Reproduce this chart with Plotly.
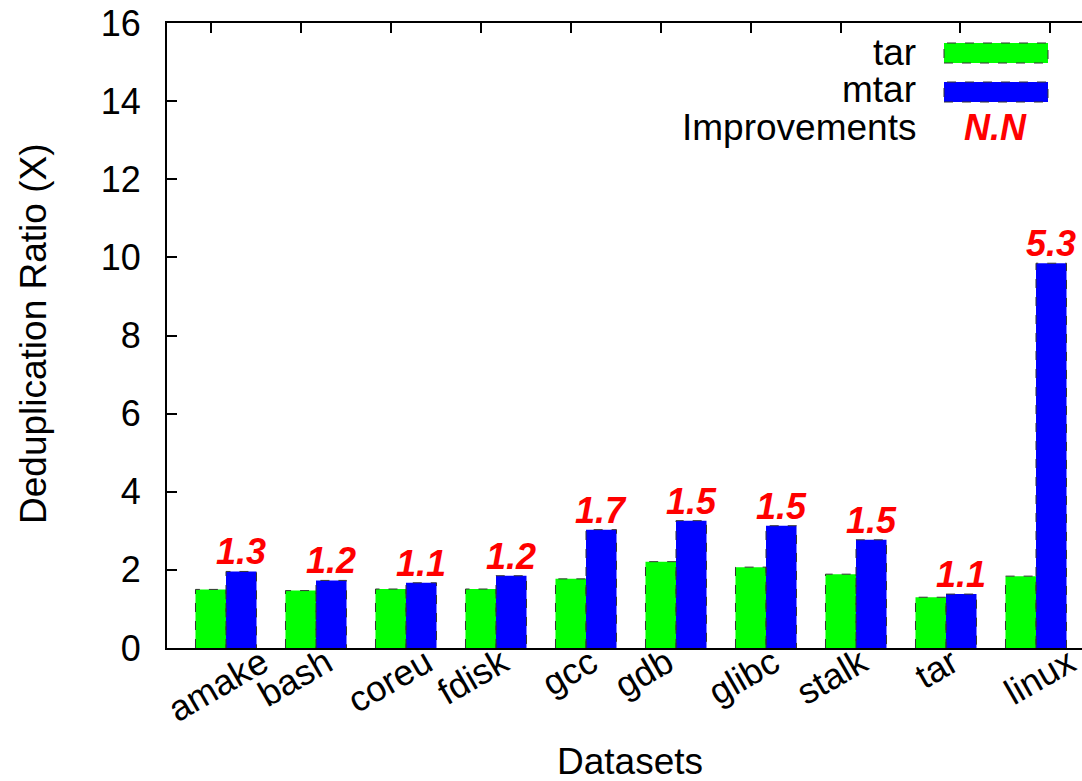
import plotly.graph_objects as go

# ---- data ----
categories = ["amake", "bash", "coreu", "fdisk", "gcc", "gdb", "glibc", "stalk", "tar", "linux"]
tar_values = [1.50, 1.47, 1.51, 1.51, 1.77, 2.21, 2.07, 1.89, 1.30, 1.84]
mtar_values = [1.96, 1.73, 1.67, 1.85, 3.03, 3.26, 3.13, 2.77, 1.38, 9.85]
improvements = ["1.3", "1.2", "1.1", "1.2", "1.7", "1.5", "1.5", "1.5", "1.1", "5.3"]
y_ticks = [0, 2, 4, 6, 8, 10, 12, 14, 16]

FONT = "Liberation Sans, Arial, Helvetica, sans-serif"
GREEN = "#00ff00"
BLUE = "#0000ff"
RED = "#ff0000"
OUTLINE = "#333333"

BARGAP = 0.322
W = (1 - BARGAP) / 2  # width of one bar in category units

xs = list(range(len(categories)))

fig = go.Figure()
fig.add_trace(go.Bar(x=xs, y=tar_values, name="tar", marker=dict(color=GREEN, line=dict(width=0)),
                     showlegend=False))
fig.add_trace(go.Bar(x=xs, y=mtar_values, name="mtar", marker=dict(color=BLUE, line=dict(width=0)),
                     showlegend=False))


def outline(values, side):
    ox, oy = [], []
    for i, v in enumerate(values):
        x0 = i - W if side == 0 else i
        x1 = x0 + W
        ox += [x0, x0, x1, x1, None]
        oy += [0, v, v, 0, None]
    return ox, oy


for k, vals in enumerate([tar_values, mtar_values]):
    ox, oy = outline(vals, k)
    fig.add_trace(go.Scatter(x=ox, y=oy, mode="lines", showlegend=False, hoverinfo="skip",
                             line=dict(color=OUTLINE, width=1, dash="dash")))

# improvement labels
for i, (v, t) in enumerate(zip(mtar_values, improvements)):
    fig.add_annotation(x=i + W / 2, y=v, xref="x", yref="y", text=t, showarrow=False,
                       yanchor="bottom", xanchor="center", yshift=-3,
                       font=dict(family=FONT, size=36, color=RED, weight="bold", style="italic"))

FIG_W, FIG_H = 1082, 781
L, T, R, B = 167, 23, 1082, 648  # plot area in screen pixels
PW, PH = R - L, B - T


def px(xp):
    return (xp - L) / PW


def py(yp):
    return (B - yp) / PH


def xdata(xp):  # screen x -> category coordinate
    return (xp - 226) / 90


# legend (custom, text left of swatch)
leg_font = dict(family=FONT, size=37, color="black")
for label, yc in [("tar", 52), ("mtar", 90), ("Improvements", 127)]:
    fig.add_annotation(x=px(918), y=py(yc), xref="paper", yref="paper", text=label,
                       showarrow=False, xanchor="right", yanchor="middle", font=leg_font)
for color, (y0, y1) in [(GREEN, (43, 63)), (BLUE, (82, 102))]:
    fig.add_shape(type="rect", xref="paper", yref="paper", x0=px(944), x1=px(1048),
                  y0=py(y1), y1=py(y0), fillcolor=color,
                  line=dict(color=OUTLINE, width=1, dash="dash"))
fig.add_annotation(x=px(995), y=py(127), xref="paper", yref="paper", text="N.N", showarrow=False,
                   xanchor="center", yanchor="middle",
                   font=dict(family=FONT, size=36, color=RED, weight="bold", style="italic"))

# axis titles
fig.add_annotation(x=px(33), y=py(334), xref="paper", yref="paper", text="Deduplication Ratio (X)",
                   showarrow=False, textangle=-90, xanchor="center", yanchor="middle",
                   font=dict(family=FONT, size=37, color="black"))
fig.add_annotation(x=px(630), y=py(761), xref="paper", yref="paper", text="Datasets",
                   showarrow=False, xanchor="center", yanchor="middle",
                   font=dict(family=FONT, size=37, color="black"))

x_range = [xdata(L), xdata(R)]
top_ticks = [xdata(p) for p in [211, 301, 391, 481, 571, 661, 751, 841, 960, 1050]]
label_pos = [xdata(p - 6) for p in [268, 332, 432, 508, 597, 673, 779, 867, 958, 1075]]

fig.update_layout(
    width=FIG_W, height=FIG_H,
    margin=dict(l=L, r=FIG_W - R, t=T, b=FIG_H - B),
    plot_bgcolor="white", paper_bgcolor="white",
    barmode="group", bargap=BARGAP, bargroupgap=0,
    font=dict(family=FONT, size=36, color="black"),
    xaxis=dict(range=x_range, tickmode="array", tickvals=label_pos, ticktext=categories,
               tickangle=-30, ticks="", showgrid=False, zeroline=False, automargin=False,
               showline=True, linecolor="black", linewidth=2, mirror=True, ticklabelstandoff=-22,
               ticklabeloverflow="allow",
               tickfont=dict(family=FONT, size=36, color="black")),
    xaxis2=dict(range=x_range, overlaying="x", side="top", tickmode="array", tickvals=top_ticks,
                ticks="inside", ticklen=10, tickwidth=2, tickcolor="black", showticklabels=False,
                showgrid=False, zeroline=False, showline=True, linecolor="black", linewidth=2,
                automargin=False),
    yaxis=dict(range=[0, 16], tickmode="array", tickvals=y_ticks, ticks="inside", ticklen=10,
               tickwidth=2, tickcolor="black", showgrid=False, zeroline=False, automargin=False,
               showline=True, linecolor="black", linewidth=2, ticklabelstandoff=17,
               ticklabeloverflow="allow",
               tickfont=dict(family=FONT, size=36, color="black")),
)
# dummy trace so xaxis2 is drawn
fig.add_trace(go.Scatter(x=[x_range[0]], y=[0], xaxis="x2", mode="markers",
                         marker=dict(opacity=0), showlegend=False, hoverinfo="skip"))

fig.write_html("out.html", config={"displayModeBar": False},
               post_script="document.body.style.margin='0px';document.body.style.padding='0px';")
